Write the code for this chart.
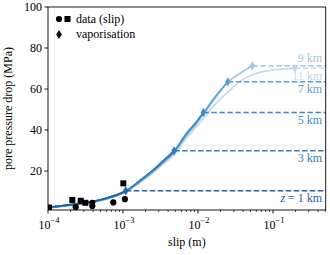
<!DOCTYPE html>
<html>
<head>
<meta charset="utf-8">
<script src="https://cdn.jsdelivr.net/npm/d3@7"></script>
<style>
  body { margin: 0; background: #fff; }
</style>
</head>
<body>
<div id="chart"></div>
<script>
// depths (km) and the colour used for each one
const depths = [1, 3, 5, 7, 9, 11]
const depthColors = ['#2662aa', '#347ebd', '#4289c4', '#5b9fcf', '#9fc7e1', '#c3d9ed']

// vaporisation points (slip in m, pressure drop in MPa)
const vapSlip = [1.09e-3, 4.8e-3, 1.18e-2, 2.5e-2, 5.3e-2, 0.196]
const vapDrop = [10.4, 29.9, 48.6, 63.6, 71.4, 70.1]

// model curves, sampled on a common slip grid, each stops at its vaporisation point
const curveSlip = [1e-4, 1.5e-4, 2e-4, 3e-4, 4e-4, 5e-4, 7e-4, 1.09e-3, 1.7e-3, 2.5e-3, 3.5e-3,
  4.8e-3, 7e-3, 9.6e-3, 1.18e-2, 1.7e-2, 2.5e-2, 3.6e-2, 5.3e-2, 0.1, 0.196]
const dropZ1 = [2.3, 3.0, 3.6, 4.4, 5.2, 6.0, 7.5, 10.4]
const dropZ3 = [2.3, 3.0, 3.6, 4.4, 5.2, 6.0, 7.5, 10.3, 15.5, 20.4, 25.3, 29.9]
const dropZ5 = [2.2, 2.9, 3.5, 4.3, 5.1, 5.9, 7.4, 10.2, 15.3, 20.2, 25.0, 29.6, 38.3, 44.2, 48.6]
const dropZ7 = [2.2, 2.9, 3.5, 4.3, 5.0, 5.8, 7.3, 10.0, 15.1, 19.9, 24.7, 29.2, 37.8, 43.8, 48.2, 56.2, 63.6]
const dropZ9 = [2.1, 2.8, 3.4, 4.2, 4.9, 5.7, 7.2, 9.9, 14.9, 19.6, 24.3, 28.8, 37.2, 43.2, 47.6, 55.6, 63.3, 67.6, 71.4]
const dropZ11 = [2.1, 2.7, 3.3, 4.1, 4.8, 5.5, 6.9, 9.6, 14.4, 19.0, 23.6, 27.9, 36.0, 41.8, 45.6, 52.6, 58.5, 63.6, 67.0, 69.3, 70.1]
const curveDrops = [dropZ1, dropZ3, dropZ5, dropZ7, dropZ9, dropZ11]

// measured data
const squareSlip = [1.03e-4, 2.11e-4, 2.73e-4, 3.15e-4, 1.01e-3]
const squareDrop = [2.2, 5.9, 5.5, 4.5, 14.0]
const circleSlip = [1.0e-4, 2.34e-4, 3.9e-4, 3.9e-4, 7.43e-4, 1.06e-3]
const circleDrop = [1.6, 2.4, 4.5, 2.9, 4.7, 6.3]

// ticks
const xTickValues = [1e-4, 1e-3, 1e-2, 1e-1]
const xTickExps = ['\u22124', '\u22123', '\u22122', '\u22121']
const yTickValues = [20, 40, 60, 80, 100]

const margin = { top: 7, left: 48, right: 4.3, bottom: 45 }
const width = 330 - margin.left - margin.right
const height = 255 - margin.top - margin.bottom

const root = d3
  .select('#chart')
  .append('svg')
  .attr('width', 330)
  .attr('height', 255)
  .attr('font-family', "'Liberation Serif', 'Times New Roman', 'DejaVu Serif', serif")

const svg = root
  .append('g')
  .attr('transform', 'translate(' + margin.left + ',' + margin.top + ')')

svg
  .append('clipPath')
  .attr('id', 'plot-clip')
  .append('rect')
  .attr('width', width)
  .attr('height', height)

const xPositionScale = d3
  .scaleLog()
  .domain([1e-4, 0.505])
  .range([0, width])

const yPositionScale = d3
  .scaleLinear()
  .domain([1, 100])
  .range([height, 0])

const plot = svg.append('g').attr('clip-path', 'url(#plot-clip)')

const line = d3
  .line()
  .x(d => xPositionScale(d[0]))
  .y(d => yPositionScale(d[1]))
  .curve(d3.curveMonotoneX)

// lightest depth first so the dark ones sit on top
const order = d3.range(depths.length).reverse()

order.forEach(i => {
  const pts = curveDrops[i].map((v, j) => [curveSlip[j], v])
  plot
    .append('path')
    .attr('d', line(pts))
    .attr('fill', 'none')
    .attr('stroke', depthColors[i])
    .attr('stroke-width', 1.7)

  // dashed line from vaporisation point to the right edge
  plot
    .append('line')
    .attr('x1', xPositionScale(vapSlip[i]))
    .attr('x2', width)
    .attr('y1', yPositionScale(vapDrop[i]))
    .attr('y2', yPositionScale(vapDrop[i]))
    .attr('stroke', depthColors[i])
    .attr('stroke-width', 1.5)
    .attr('stroke-dasharray', '5.5,2.5')
})

const diamond = (cx, cy) => {
  const w = 2.8
  const h = 4.5
  return 'M' + cx + ',' + (cy - h) + 'L' + (cx + w) + ',' + cy + 'L' + cx + ',' + (cy + h) + 'L' + (cx - w) + ',' + cy + 'Z'
}

order.forEach(i => {
  plot
    .append('path')
    .attr('d', diamond(xPositionScale(vapSlip[i]), yPositionScale(vapDrop[i])))
    .attr('fill', depthColors[i])
})

// data points
plot
  .selectAll('.sq')
  .data(squareSlip)
  .enter()
  .append('rect')
  .attr('class', 'sq')
  .attr('x', (d, i) => xPositionScale(d) - 3)
  .attr('y', (d, i) => yPositionScale(squareDrop[i]) - 3)
  .attr('width', 6)
  .attr('height', 6)
  .attr('fill', 'black')

plot
  .selectAll('.dot')
  .data(circleSlip)
  .enter()
  .append('circle')
  .attr('class', 'dot')
  .attr('cx', d => xPositionScale(d))
  .attr('cy', (d, i) => yPositionScale(circleDrop[i]))
  .attr('r', 3.1)
  .attr('fill', 'black')

// depth labels at the right edge
depths.forEach((z, i) => {
  const t = svg
    .append('text')
    .attr('x', width - 3.5)
    .attr('y', yPositionScale(vapDrop[i]))
    .attr('text-anchor', 'end')
    .attr('font-size', 12)
    .attr('fill', depthColors[i])
  if (i === 4) {
    t.attr('dy', -4).text(z + ' km')
  } else {
    t.attr('dy', '0.95em')
    if (z === 1) {
      t.append('tspan').attr('font-style', 'italic').text('z')
      t.append('tspan').text(' = ' + z + ' km')
    } else {
      t.text(z + ' km')
    }
  }
})

// frame
svg
  .append('rect')
  .attr('width', width)
  .attr('height', height)
  .attr('fill', 'none')
  .attr('stroke', 'black')
  .attr('stroke-width', 0.9)

// x ticks, major + minor
const minorTicks = xPositionScale.ticks().filter(d => xTickValues.indexOf(d) < 0)
svg
  .selectAll('.xminor')
  .data(minorTicks)
  .enter()
  .append('line')
  .attr('x1', d => xPositionScale(d))
  .attr('x2', d => xPositionScale(d))
  .attr('y1', height)
  .attr('y2', height + 2)
  .attr('stroke', 'black')
  .attr('stroke-width', 0.7)

svg
  .selectAll('.xmajor')
  .data(xTickValues)
  .enter()
  .append('line')
  .attr('x1', d => xPositionScale(d))
  .attr('x2', d => xPositionScale(d))
  .attr('y1', height)
  .attr('y2', height + 3.5)
  .attr('stroke', 'black')
  .attr('stroke-width', 0.9)

xTickValues.forEach((d, i) => {
  const t = svg
    .append('text')
    .attr('x', xPositionScale(d) + 1)
    .attr('y', height + 18.5)
    .attr('text-anchor', 'middle')
    .attr('font-size', 12)
  t.append('tspan').text('10')
  t.append('tspan').attr('dy', -6).attr('font-size', 8.5).text(xTickExps[i])
})

svg
  .selectAll('.ymajor')
  .data(yTickValues)
  .enter()
  .append('line')
  .attr('x1', -3.5)
  .attr('x2', 0)
  .attr('y1', d => yPositionScale(d))
  .attr('y2', d => yPositionScale(d))
  .attr('stroke', 'black')
  .attr('stroke-width', 0.9)

svg
  .selectAll('.ylabel')
  .data(yTickValues)
  .enter()
  .append('text')
  .attr('x', -6)
  .attr('y', d => yPositionScale(d))
  .attr('dy', '0.34em')
  .attr('text-anchor', 'end')
  .attr('font-size', 12)
  .text(d => d)

// axis titles
svg
  .append('text')
  .attr('x', width / 2)
  .attr('y', height + 36)
  .attr('text-anchor', 'middle')
  .attr('font-size', 12)
  .text('slip (m)')

svg
  .append('text')
  .attr('transform', 'translate(' + (-36) + ',' + height / 2 + ') rotate(-90)')
  .attr('text-anchor', 'middle')
  .attr('font-size', 12)
  .text('pore pressure drop (MPa)')

// legend
const legend = svg.append('g').attr('transform', 'translate(11,12)')
legend.append('circle').attr('cx', 0).attr('cy', 0).attr('r', 3.1).attr('fill', 'black')
legend.append('rect').attr('x', 5.5).attr('y', -3).attr('width', 6).attr('height', 6).attr('fill', 'black')
legend
  .append('text')
  .attr('x', 17)
  .attr('y', 0)
  .attr('dy', '0.3em')
  .attr('font-size', 12)
  .text('data (slip)')
legend.append('path').attr('d', diamond(0, 15.5)).attr('fill', 'black')
legend
  .append('text')
  .attr('x', 17)
  .attr('y', 15.5)
  .attr('dy', '0.3em')
  .attr('font-size', 12)
  .text('vaporisation')
</script>
</body>
</html>
